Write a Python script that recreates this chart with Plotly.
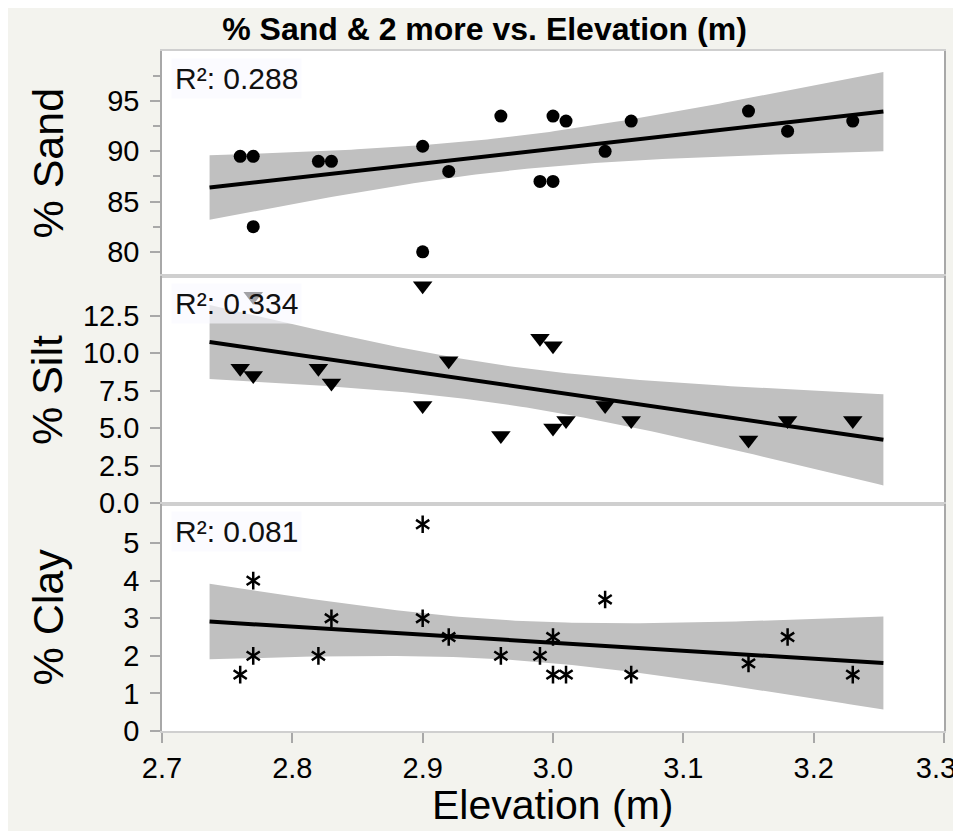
import numpy as np
import plotly.graph_objects as go

# ---------------- data ----------------
elevation = [2.76, 2.77, 2.77, 2.82, 2.83, 2.90, 2.90, 2.92, 2.96, 2.99,
             3.00, 3.00, 3.01, 3.04, 3.06, 3.15, 3.18, 3.23]
sand = [89.5, 89.5, 82.5, 89.0, 89.0, 90.5, 80.0, 88.0, 93.5, 87.0,
        87.0, 93.5, 93.0, 90.0, 93.0, 94.0, 92.0, 93.0]
silt = [9.0, 8.5, 13.8, 9.0, 8.0, 6.5, 14.5, 9.5, 4.5, 11.0,
        10.5, 5.0, 5.5, 6.5, 5.5, 4.2, 5.5, 5.5]
clay = [1.5, 2.0, 4.0, 2.0, 3.0, 3.0, 5.5, 2.5, 2.0, 2.0,
        2.5, 1.5, 1.5, 3.5, 1.5, 1.8, 2.5, 1.5]

r2_labels = ["R²: 0.288", "R²: 0.334", "R²: 0.081"]
y_titles = ["% Sand", "% Silt", "% Clay"]
chart_title = "% Sand & 2 more vs. Elevation (m)"
x_title = "Elevation (m)"

x_ticks = [2.7, 2.8, 2.9, 3.0, 3.1, 3.2, 3.3]
sand_ticks = [80, 85, 90, 95]
sand_minor_ticks = [82.5, 87.5, 92.5, 97.5]
silt_ticks = [0, 2.5, 5, 7.5, 10, 12.5]
clay_ticks = [0, 1, 2, 3, 4, 5]

T_CRIT = 2.1199  # t(0.975, df=16)

# ---------------- layout geometry ----------------
# the page body has an 8px margin, so the figure starts at (8, 8) of the window
OFF = 8
W, H = 961 - OFF, 831 - OFF
L, R, T, B = 162 - OFF, 17, 51 - OFF, 100
PW, PH = W - L - R, H - T - B


def px_x(px):
    """window pixel x -> paper x"""
    return (px - 162) / PW


def px_y(py):
    """window pixel y -> paper y"""
    return (731 - py) / PH


dom_sand = [px_y(276), 1.0]
dom_silt = [px_y(504), px_y(276)]
dom_clay = [0.0, px_y(504)]


def fit_band(x, y):
    x = np.asarray(x, float)
    y = np.asarray(y, float)
    n = len(x)
    b, a = np.polyfit(x, y, 1)
    resid = y - (a + b * x)
    s = np.sqrt(np.sum(resid ** 2) / (n - 2))
    xbar = x.mean()
    sxx = np.sum((x - xbar) ** 2)
    pad = 0.05 * (x.max() - x.min())
    xs = np.linspace(x.min() - pad, x.max() + pad, 120)
    yh = a + b * xs
    se = s * np.sqrt(1.0 / n + (xs - xbar) ** 2 / sxx)
    return xs, yh, yh - T_CRIT * se, yh + T_CRIT * se


fig = go.Figure()

panels = [("x", "y", sand), ("x2", "y2", silt), ("x3", "y3", clay)]
for i, (xa, ya, vals) in enumerate(panels):
    xs, yh, lo, hi = fit_band(elevation, vals)
    fig.add_trace(go.Scatter(
        x=np.concatenate([xs, xs[::-1]]), y=np.concatenate([lo, hi[::-1]]),
        fill="toself", fillcolor="#c0c0c0", line=dict(width=0), mode="lines",
        hoverinfo="skip", showlegend=False, xaxis=xa, yaxis=ya))
    fig.add_trace(go.Scatter(
        x=xs, y=yh, mode="lines", line=dict(color="black", width=4),
        showlegend=False, xaxis=xa, yaxis=ya))

fig.add_trace(go.Scatter(
    x=elevation, y=sand, mode="markers",
    marker=dict(symbol="circle", size=13, color="black"),
    showlegend=False, xaxis="x", yaxis="y"))
fig.add_trace(go.Scatter(
    x=elevation, y=silt, mode="markers",
    marker=dict(symbol="triangle-down", size=17, color="black", line=dict(width=0)),
    showlegend=False, xaxis="x2", yaxis="y2"))
for sym in ["y-up-open", "y-down-open"]:
    fig.add_trace(go.Scatter(
        x=elevation, y=clay, mode="markers",
        marker=dict(symbol=sym, size=11, color="black",
                    line=dict(color="black", width=2.5)),
        showlegend=False, xaxis="x3", yaxis="y3"))

FONT = "Liberation Sans, Arial, Helvetica, sans-serif"
tick_font = dict(family=FONT, size=29, color="black")

# x tick labels; the last one is nudged left (trailing spaces) so it stays inside the page
x_ticktext = [f"{v:.1f}" for v in x_ticks]
x_ticktext[-1] = x_ticktext[-1] + "\u00a0\u00a0"

xcommon = dict(range=[2.7, 3.3], showgrid=False, zeroline=False,
               showline=True, linecolor="#cfcfcf", linewidth=1.5, mirror=True,
               automargin=False)
ycommon = dict(showgrid=False, zeroline=False, showline=True,
               linecolor="#a8a8a8", linewidth=1.5, mirror=True,
               ticks="outside", ticklen=10, tickwidth=1.5, tickcolor="#a8a8a8",
               tickfont=tick_font, ticklabelstandoff=5, automargin=False)

fig.update_layout(
    width=W, height=H,
    margin=dict(l=L, r=R, t=T, b=B, autoexpand=False),
    paper_bgcolor="#f3f3ee", plot_bgcolor="white",
    font=dict(family=FONT, color="black"),
    title=dict(text="<b>" + chart_title + "</b>", xref="container", x=0.5,
               xanchor="center", yref="container", y=1 - (29 - OFF) / H,
               yanchor="middle",
               font=dict(family=FONT, size=32, color="black")),
    xaxis=dict(**xcommon, anchor="y", showticklabels=False, ticks=""),
    xaxis2=dict(**xcommon, anchor="y2", matches="x", showticklabels=False, ticks=""),
    xaxis3=dict(**xcommon, anchor="y3", matches="x",
                tickvals=x_ticks, ticktext=x_ticktext, ticks="outside", ticklen=10,
                tickwidth=1.5, tickcolor="#a8a8a8", tickfont=tick_font,
                ticklabelstandoff=0, ticklabeloverflow="allow"),
    yaxis=dict(**ycommon, domain=dom_sand, anchor="x", range=[77.6, 99.97],
               tickvals=sand_ticks,
               minor=dict(tickvals=sand_minor_ticks, ticks="outside", ticklen=7,
                          tickwidth=1.5, tickcolor="#a8a8a8")),
    yaxis2=dict(**ycommon, domain=dom_silt, anchor="x2", range=[-0.07, 15.15],
                tickvals=silt_ticks, tickformat=".1f"),
    yaxis3=dict(**ycommon, domain=dom_clay, anchor="x3", range=[0, 6.04],
                tickvals=clay_ticks),
)

annotations = []
for i, ya in enumerate(["y", "y2", "y3"]):
    annotations.append(dict(
        text=r2_labels[i], xref="x domain", yref=ya + " domain",
        x=0.012, y=0.97, xanchor="left", yanchor="top", showarrow=False,
        font=dict(family=FONT, size=30, color="#111111"),
        bgcolor="rgba(249,249,255,0.65)", borderpad=3))
    dom = [dom_sand, dom_silt, dom_clay][i]
    annotations.append(dict(
        text=y_titles[i], xref="paper", yref="paper",
        x=px_x(47), y=(dom[0] + dom[1]) / 2, xanchor="center", yanchor="middle",
        textangle=-90, showarrow=False,
        font=dict(family=FONT, size=43, color="black")))
annotations.append(dict(
    text=x_title, xref="paper", yref="paper", x=0.5, y=px_y(805),
    xanchor="center", yanchor="middle", showarrow=False,
    font=dict(family=FONT, size=41, color="black")))
fig.update_layout(annotations=annotations)

fig.write_html("out.html")
